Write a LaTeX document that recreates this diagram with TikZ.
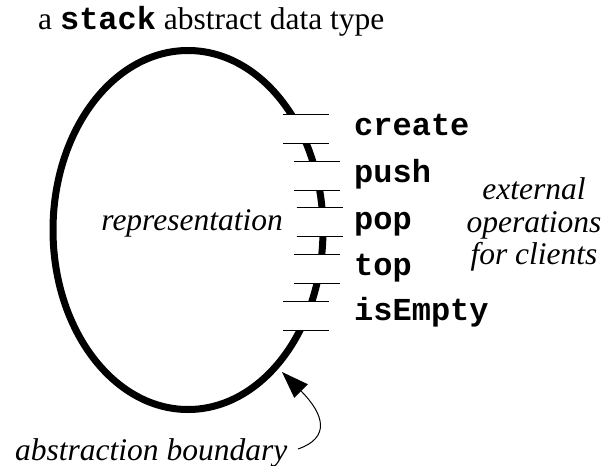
\documentclass[tikz,border=0pt]{standalone}
\usepackage{fontspec}
\setmainfont{Liberation Serif}
\setmonofont{Liberation Mono}
\usetikzlibrary{arrows.meta}
\begin{document}
\begin{tikzpicture}[x=1pt,y=-1pt,
  serif/.style={inner sep=0pt,font=\fontsize{31.5}{36}\selectfont},
  ital/.style={inner sep=0pt,font=\fontsize{31.5}{36}\selectfont\itshape},
  opname/.style={inner sep=0pt,anchor=base west,font=\fontsize{32}{36}\selectfont\ttfamily\bfseries},
  boundary/.style={line width=7pt},
  gapcover/.style={fill=white,draw=none},
  gapline/.style={line width=1pt},
  pointer/.style={line width=1pt,-{Triangle[length=27pt,width=19pt]}}]
\useasboundingbox (0,0) rectangle (603,466);
% title
\node[serif,anchor=base west] (title) at (38,29) {a {\fontsize{32}{36}\selectfont\ttfamily\bfseries stack} abstract data type};
% boundary ellipse
\draw[boundary] (188,230) ellipse [x radius=135, y radius=179.5];
% gaps for the operations
\fill[gapcover] (270,114) rectangle (352,143.3);
\fill[gapcover] (270,161) rectangle (352,190);
\fill[gapcover] (270,207.7) rectangle (352,236.7);
\fill[gapcover] (270,254.3) rectangle (352,283.3);
\fill[gapcover] (270,301) rectangle (352,330);
% gap edges
\draw[gapline] (283.3,114) -- (329.3,114);
\draw[gapline] (283.3,143.3) -- (329.3,143.3);
\draw[gapline] (294,161) -- (340,161);
\draw[gapline] (294,190) -- (340,190);
\draw[gapline] (296.7,207.7) -- (342.7,207.7);
\draw[gapline] (296.7,236.7) -- (342.7,236.7);
\draw[gapline] (294,254.3) -- (340,254.3);
\draw[gapline] (294,283.3) -- (340,283.3);
\draw[gapline] (283.3,301) -- (329.3,301);
\draw[gapline] (283.3,330) -- (329.3,330);
% operation names
\node[opname] (create) at (354,135) {create};
\node[opname] (push) at (354,182) {push};
\node[opname] (pop) at (354,229) {pop};
\node[opname] (top) at (354,275) {top};
\node[opname] (isempty) at (354,320) {isEmpty};
% labels
\node[ital,anchor=base east] (repr) at (283,230) {representation};
\node[ital,anchor=base] (ext1) at (534,199) {external};
\node[ital,anchor=base] (ext2) at (534,232) {operations};
\node[ital,anchor=base] (ext3) at (534,264) {for clients};
\node[ital,anchor=base west] (abs) at (15,460) {abstraction boundary};
% pointer
\coordinate (tail) at (298,449);
\coordinate (tip) at (282,372);
\draw[pointer] (tail) .. controls (330,438) and (325,415) .. (tip);
\end{tikzpicture}
\end{document}
